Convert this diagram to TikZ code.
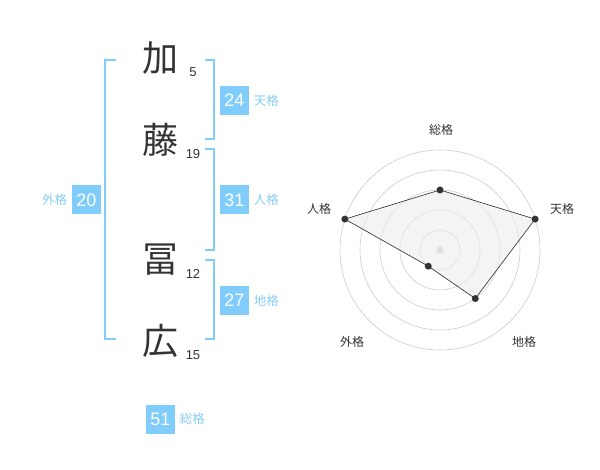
\documentclass[tikz,border=0pt]{standalone}
\usepackage{fontspec}
\setmainfont{Liberation Sans}
\newfontfamily\jp{Noto Sans CJK JP}
\usepackage{tikz}
\usetikzlibrary{positioning}
\usepackage{xcolor}
\definecolor{boxblue}{RGB}{128,204,250}
\definecolor{lblblue}{RGB}{135,205,245}
\definecolor{ink}{RGB}{51,51,51}
\definecolor{ring}{RGB}{204,204,204}
\tikzset{
    kanji/.style={text=ink,font=\jp\fontsize{36}{36}\selectfont,inner sep=0},
    strokes/.style={text=ink,font=\fontsize{13}{13}\selectfont,inner sep=0},
    nbox/.style={fill=boxblue,text=white,minimum size=29pt,inner sep=0,font=\fontsize{18}{18}\selectfont},
    kaku/.style={text=lblblue,font=\jp\fontsize{12.5}{12.5}\selectfont,inner sep=0},
    brk/.style={draw=boxblue,line width=1.6pt},
    rlabel/.style={text=ink,font=\jp\fontsize{12}{12}\selectfont,inner sep=0}
}
\begin{document}
\begin{tikzpicture}[x=1pt,y=-1pt]
\useasboundingbox (0,0) rectangle (600,470);
% name
\foreach \y/\p/\k/\n in {58/ka/加/5, 140/to/藤/19, 260/fu/冨/12, 341/hi/広/15}{
    \node[kanji] (\p) at (160,\y) {\k};
    \node[strokes] (n\p) at (193,\y+14) {\n};
}
% brackets
\draw[brk] (116,60) -- (105,60) -- (105,339) -- (116,339);
\draw[brk] (205,60) -- (214,60) -- (214,139) -- (205,139);
\draw[brk] (205,149) -- (214,149) -- (214,250) -- (205,250);
\draw[brk] (205,260) -- (214,260) -- (214,339) -- (205,339);
% values
\foreach \x/\y/\p/\v/\t/\pos in {234.5/100.5/ten/24/天格/right, 234.5/200/jin/31/人格/right, 234.5/300.5/chi/27/地格/right, 86.5/200/gai/20/外格/left, 160.5/419/sou/51/総格/right}{
    \node[nbox] (\p) at (\x,\y) {\v};
    \node[kaku, \pos=4.5pt of \p] (l\p) {\t};
}
% radar
\begin{scope}[shift={(440,250)},yscale=-1]
\foreach \r in {20,40,...,100}
    \draw[ring, line width=0.6pt] (0,0) circle (\r);
\fill[ring] (0,0) circle (3.5);
\foreach \a/\r/\p in {90/60/rsou, 18/100/rten, -54/60/rchi, -126/20/rgai, 162/100/rjin}
    \coordinate (\p) at (\a:\r);
\draw[ink!80!black, line width=0.6pt, fill=gray!15, fill opacity=0.6] (rsou) -- (rten) -- (rchi) -- (rgai) -- (rjin) -- cycle;
\foreach \p in {rsou, rten, rchi, rgai, rjin}
    \fill[ink] (\p) circle (3.5);
\end{scope}
\foreach \x/\y/\p/\t in {441/130/asou/総格, 562/209/aten/天格, 319/209/ajin/人格, 352/342/agai/外格, 524/342/achi/地格}
    \node[rlabel] (\p) at (\x,\y) {\t};
\end{tikzpicture}
\end{document}
